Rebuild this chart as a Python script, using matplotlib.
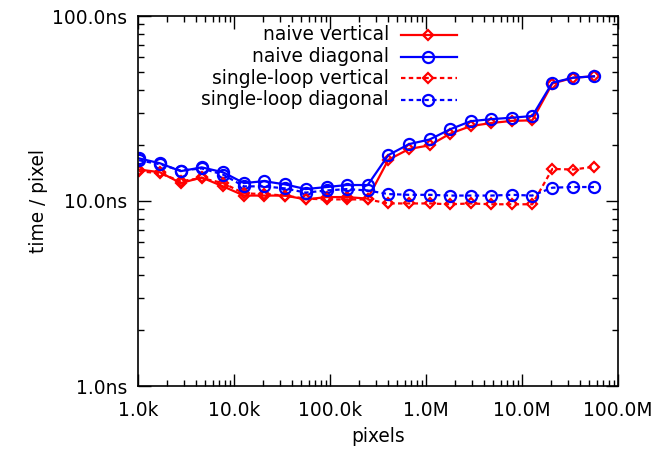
import matplotlib.pyplot as plt
from matplotlib.lines import Line2D
from matplotlib.ticker import FixedLocator, NullFormatter

# image sizes (pixels) and time per pixel (ns)
pixels = [1024, 1690, 2790, 4610, 7680, 12700, 20500, 34000, 55800, 92500,
          150000, 247000, 405000, 665000, 1090000, 1780000, 2920000,
          4790000, 7810000, 12800000, 20700000, 34200000, 56200000]

naive_vertical = [14.8, 14.3, 12.5, 13.4, 12.0, 10.7, 10.7, 10.7, 10.2, 10.5,
                  10.5, 10.3, 16.7, 19.1, 20.0, 23.1, 25.4, 26.4, 27.1, 27.3,
                  43.1, 46.4, 47.2]
naive_diagonal = [17.0, 16.0, 14.5, 15.2, 14.3, 12.5, 12.8, 12.3, 11.6, 11.9,
                  12.2, 12.2, 17.7, 20.3, 21.5, 24.4, 27.0, 27.7, 28.2, 28.8,
                  43.6, 46.4, 47.2]
loop_vertical = [14.5, 14.1, 12.8, 13.3, 12.5, 11.0, 10.9, 10.7, 10.3, 10.2,
                 10.2, 10.2, 9.7, 9.7, 9.7, 9.6, 9.7, 9.6, 9.6, 9.6,
                 14.9, 14.8, 15.3]
loop_diagonal = [16.6, 15.8, 14.6, 15.0, 13.9, 12.0, 12.0, 11.7, 11.1, 11.4,
                 11.6, 11.4, 10.9, 10.8, 10.8, 10.7, 10.7, 10.7, 10.8, 10.7,
                 11.8, 11.9, 11.9]

xticks = [1e3, 1e4, 1e5, 1e6, 1e7, 1e8]
xtick_labels = ['1.0k', '10.0k', '100.0k', '1.0M', '10.0M', '100.0M']
yticks = [1, 10, 100]
ytick_labels = ['1.0ns', '10.0ns', '100.0ns']

series = [
    ('naive vertical', naive_vertical, 'red', 'D', '-'),
    ('naive diagonal', naive_diagonal, 'blue', 'o', '-'),
    ('single-loop vertical', loop_vertical, 'red', 'D', (0, (2, 1.5))),
    ('single-loop diagonal', loop_diagonal, 'blue', 'o', (0, (2, 1.5))),
]

plt.rcParams['font.family'] = 'DejaVu Sans'
plt.rcParams['font.size'] = 13.4

fig = plt.figure(figsize=(6.52, 4.5), dpi=100)
ax = fig.add_axes([138 / 652, 1 - 386 / 450, 480 / 652, 370 / 450])

def style(marker):
    ms = 5.5 if marker == 'D' else 8
    return dict(marker=marker, markersize=ms, markerfacecolor='none',
                markeredgewidth=1.6, linewidth=1.6)

for label, vals, color, marker, ls in series:
    ax.plot(pixels, vals, color=color, linestyle=ls, **style(marker))

ax.set_xscale('log')
ax.set_yscale('log')
ax.set_xlim(1e3, 1e8)
ax.set_ylim(1, 100)

def minors(majors):
    return [k * m for m in majors[:-1] for k in range(2, 10)]

ax.xaxis.set_major_locator(FixedLocator(xticks))
ax.set_xticklabels(xtick_labels)
ax.yaxis.set_major_locator(FixedLocator(yticks))
ax.set_yticklabels(ytick_labels)
ax.xaxis.set_minor_locator(FixedLocator(minors(xticks)))
ax.yaxis.set_minor_locator(FixedLocator(minors(yticks)))
ax.xaxis.set_minor_formatter(NullFormatter())
ax.yaxis.set_minor_formatter(NullFormatter())

ax.tick_params(which='both', direction='in', top=True, right=True, width=1.0)
ax.tick_params(which='major', length=9)
ax.tick_params(which='minor', length=4.5)
ax.tick_params(axis='x', which='major', pad=11)
ax.tick_params(axis='y', which='major', pad=8)
for s in ax.spines.values():
    s.set_linewidth(1.2)

ax.set_xlabel('pixels', labelpad=5)
ax.set_ylabel('time / pixel', labelpad=3)

# gnuplot-style key: right aligned text, sample line to the right
row_y = [35, 56.5, 78, 99.5]
for (label, vals, color, marker, ls), py in zip(series, row_y):
    yf = 1 - py / 450
    fig.text(389 / 652, yf, label, ha='right', va='center')
    fig.add_artist(Line2D([401 / 652, 457 / 652], [yf, yf], color=color,
                          linestyle=ls, transform=fig.transFigure, **style('None')))
    fig.add_artist(Line2D([428 / 652], [yf], color=color, linestyle='None',
                          transform=fig.transFigure,
                          **{k: v for k, v in style(marker).items() if k != 'linewidth'}))

fig.savefig('out.png', dpi=100)
